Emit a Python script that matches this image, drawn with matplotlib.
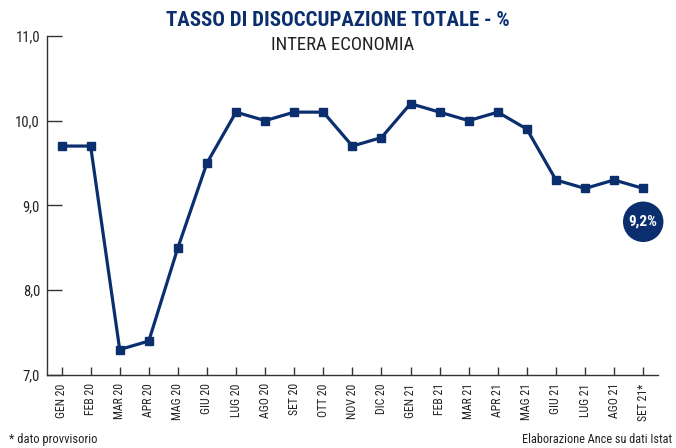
import matplotlib.pyplot as plt

plt.rcParams['font.family'] = ['Roboto Condensed', 'Archivo Narrow', 'Liberation Sans Narrow', 'DejaVu Sans']

# data
months = ['GEN 20', 'FEB 20', 'MAR 20', 'APR 20', 'MAG 20', 'GIU 20', 'LUG 20',
          'AGO 20', 'SET 20', 'OTT 20', 'NOV 20', 'DIC 20', 'GEN 21', 'FEB 21',
          'MAR 21', 'APR 21', 'MAG 21', 'GIU 21', 'LUG 21', 'AGO 21', 'SET 21*']
rate = [9.7, 9.7, 7.3, 7.4, 8.5, 9.5, 10.1, 10.0, 10.1, 10.1, 9.7, 9.8,
        10.2, 10.1, 10.0, 10.1, 9.9, 9.3, 9.2, 9.3, 9.2]
yticks = [7.0, 8.0, 9.0, 10.0, 11.0]
last_label = '9,2%'

navy = '#0b2f6e'

fig = plt.figure(figsize=(6.76, 4.48), dpi=100)
ax = fig.add_axes([0.0695, 0.163, 0.9035, 0.757])

x = list(range(len(months)))
ax.plot(x, rate, color=navy, linewidth=2.3, marker='s', markersize=6,
        markerfacecolor=navy, markeredgecolor=navy)

# callout with last value
ax.annotate(last_label, xy=(x[-1], rate[-1]), xytext=(0, -24),
            textcoords='offset points', ha='center', va='center',
            color='white', fontsize=11, fontweight='bold',
            bbox=dict(boxstyle='circle,pad=0.38', fc=navy, ec='none'))

ax.set_xlim(-0.5, 20.5)
ax.set_ylim(7, 11)
ax.set_xticks(x)
ax.set_xticklabels(months, rotation=90, fontsize=8.5, color='#222222')
ax.set_yticks(yticks)
ax.set_yticklabels([f'{v:.1f}'.replace('.', ',') for v in yticks],
                   fontsize=10.5, color='#222222')

ax.tick_params(axis='x', direction='in', length=6, width=1, color='#333333', pad=6)
ax.tick_params(axis='y', direction='in', length=11, width=1, color='#333333', pad=5)
for s in ['top', 'right']:
    ax.spines[s].set_visible(False)
for s in ['left', 'bottom']:
    ax.spines[s].set_color('#333333')
    ax.spines[s].set_linewidth(1)

fig.text(0.5, 0.955, 'TASSO DI DISOCCUPAZIONE TOTALE - %', ha='center', va='center',
         fontsize=15, fontweight='bold', color=navy)
fig.text(0.507, 0.9, 'INTERA ECONOMIA', ha='center', va='center',
         fontsize=13.5, color='#222222')
fig.text(0.014, 0.004, '* dato provvisorio', ha='left', va='bottom',
         fontsize=9, color='#222222')
fig.text(0.994, 0.004, 'Elaborazione Ance su dati Istat', ha='right', va='bottom',
         fontsize=8.8, color='#222222')

fig.savefig('out.png', dpi=100)
